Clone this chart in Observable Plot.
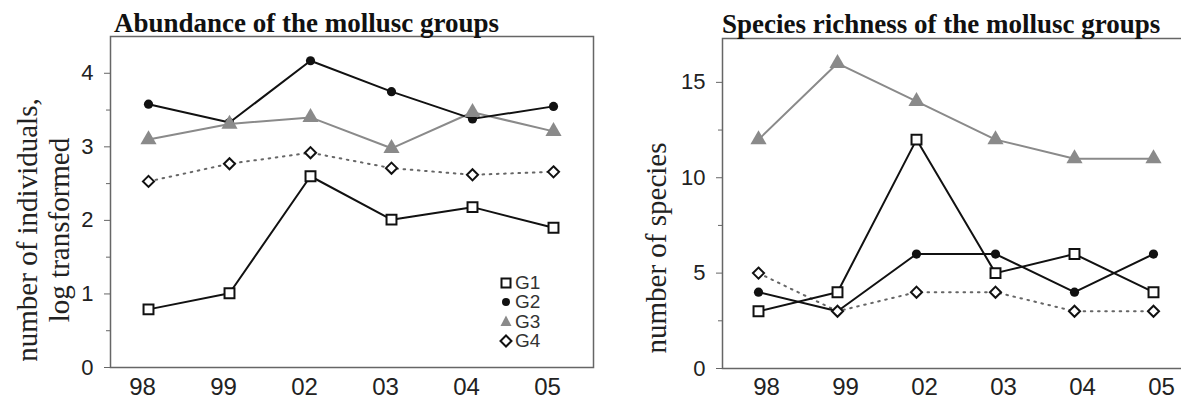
<!DOCTYPE html>
<html>
<head>
<meta charset="utf-8">
<script src="https://cdn.jsdelivr.net/npm/d3@7"></script>
<script src="https://cdn.jsdelivr.net/npm/@observablehq/plot@0.6"></script>
<style>
  html, body { margin: 0; padding: 0; background: #fff; }
  #wrap { position: relative; width: 1181px; height: 401px; overflow: hidden; background: #fff; }
  .panel { position: absolute; top: 0; overflow: hidden; height: 401px; }
  .title { position: absolute; font-family: "Liberation Serif", "Times New Roman", serif; font-weight: bold; font-size: 27px; color: #111; white-space: nowrap; line-height: 1; }
  #overlay { position: absolute; left: 0; top: 0; pointer-events: none; }
  .legend { position: absolute; font-family: "Liberation Sans", Arial, sans-serif; font-size: 19px; color: #333; line-height: 19.3px; }
  .legend div { display: flex; align-items: center; }
  .legend svg { margin-right: 2px; }
</style>
</head>
<body>
<div id="wrap">
  <div class="panel" id="left" style="left:0;width:600px"></div>
  <div class="panel" id="right" style="left:600px;width:581px"></div>
  <div class="title" style="left:114px;top:10px">Abundance of the mollusc groups</div>
  <div class="title" style="left:722px;top:11px">Species richness of the mollusc groups</div>
  <svg id="overlay" width="1181" height="401"></svg>
  <div class="legend" id="legend" style="left:499px;top:273px"></div>
</div>
<script>
// ---- data ----
const years = ["98", "99", "02", "03", "04", "05"];
const groups = ["G1", "G2", "G3", "G4"];

const abundanceG1 = [0.79, 1.01, 2.60, 2.01, 2.18, 1.90];
const abundanceG2 = [3.58, 3.33, 4.17, 3.75, 3.38, 3.55];
const abundanceG3 = [3.10, 3.31, 3.40, 2.98, 3.47, 3.21];
const abundanceG4 = [2.53, 2.77, 2.92, 2.71, 2.62, 2.66];

const richnessG1 = [3, 4, 12, 5, 6, 4];
const richnessG2 = [4, 3, 6, 6, 4, 6];
const richnessG3 = [12, 16, 14, 12, 11, 11];
const richnessG4 = [5, 3, 4, 4, 3, 3];

const abundanceTicks = [0, 1, 2, 3, 4];
const abundanceMinor = [0.5, 1.5, 2.5, 3.5];
const richnessTicks = [0, 5, 10, 15];
const richnessMinor = [2.5, 7.5, 12.5];

function table(series) {
  const rows = [];
  groups.forEach((g, gi) => series[gi].forEach((v, i) => rows.push({year: years[i], group: g, value: v})));
  return rows;
}
const abundance = table([abundanceG1, abundanceG2, abundanceG3, abundanceG4]);
const richness = table([richnessG1, richnessG2, richnessG3, richnessG4]);

const styleG = {
  G1: {line: {stroke: "#111", strokeWidth: 2}, dot: {symbol: "square", r: 5.6, fill: "white", stroke: "#111", strokeWidth: 2}},
  G2: {line: {stroke: "#111", strokeWidth: 2}, dot: {symbol: "circle", r: 4.6, fill: "#111", stroke: "none"}},
  G3: {line: {stroke: "#8a8a8a", strokeWidth: 2}, dot: {symbol: "triangle", r: 6, fill: "#8a8a8a", stroke: "none"}},
  G4: {line: {stroke: "#666", strokeWidth: 2, strokeDasharray: "1.6,5.6"}, dot: {symbol: "diamond2", r: 5, fill: "white", stroke: "#111", strokeWidth: 2}}
};
const lineOrder = ["G4", "G3", "G1", "G2"];
const dotOrder = ["G2", "G3", "G1", "G4"];

function seriesMarks(data) {
  const marks = [];
  for (const g of lineOrder) {
    const d = data.filter(r => r.group === g);
    marks.push(Plot.line(d, {x: "year", y: "value", ...styleG[g].line}));
  }
  for (const g of dotOrder) {
    const d = data.filter(r => r.group === g);
    marks.push(Plot.dot(d, {x: "year", y: "value", ...styleG[g].dot}));
  }
  return marks;
}

const axisColor = "#666";
const textColor = "#222";
const fmt = d => String(d);

// ---- left panel ----
const left = Plot.plot({
  width: 600, height: 401,
  marginLeft: 110, marginRight: 7, marginTop: 36, marginBottom: 34,
  style: {fontFamily: "Liberation Sans, Arial, sans-serif", background: "white", color: textColor},
  x: {type: "point", domain: years, range: [148, 553], padding: 0, axis: null},
  y: {domain: [0, 4.5], range: [367, 36], axis: null},
  marks: [
    Plot.frame({stroke: axisColor, strokeWidth: 1.5}),
    Plot.axisY(abundanceMinor, {tickSize: 4, tickFormat: () => "", stroke: axisColor, strokeWidth: 1, label: null}),
    Plot.axisY(abundanceTicks, {tickSize: 6, tickPadding: 11, tickFormat: fmt, fontSize: 22, fill: textColor, stroke: axisColor, strokeWidth: 1, label: null}),
    Plot.axisX(years, {tickSize: 0, tickPadding: 10, fontSize: 24, fill: textColor, label: null, dx: -6}),
    ...seriesMarks(abundance)
  ]
});
document.getElementById("left").appendChild(left);

// ---- right panel ----
const right = Plot.plot({
  width: 581, height: 401,
  marginLeft: 122, marginRight: -6, marginTop: 38, marginBottom: 33,
  style: {fontFamily: "Liberation Sans, Arial, sans-serif", background: "white", color: textColor},
  x: {type: "point", domain: years, range: [158, 553], padding: 0, axis: null},
  y: {domain: [0, 17.3], range: [368, 38], axis: null},
  marks: [
    Plot.frame({stroke: axisColor, strokeWidth: 1.5}),
    Plot.axisY(richnessMinor, {tickSize: 4, tickFormat: () => "", stroke: axisColor, strokeWidth: 1, label: null}),
    Plot.axisY(richnessTicks, {tickSize: 6, tickPadding: 11, tickFormat: fmt, fontSize: 22, fill: textColor, stroke: axisColor, strokeWidth: 1, label: null}),
    Plot.axisX(years, {tickSize: 0, tickPadding: 9, fontSize: 24, fill: textColor, label: null, dx: 8}),
    ...seriesMarks(richness)
  ]
});
document.getElementById("right").appendChild(right);

// ---- axis titles ----
const overlay = d3.select("#overlay");
const yTitles = [
  {x: 27, y: 230, text: "number of individuals,"},
  {x: 59, y: 230, text: "log transformed"},
  {x: 656, y: 248, text: "number of species"}
];
overlay.selectAll("text").data(yTitles).join("text")
  .attr("transform", d => `translate(${d.x},${d.y}) rotate(-90)`)
  .attr("text-anchor", "middle")
  .attr("dominant-baseline", "central")
  .attr("font-family", "Liberation Serif, Times New Roman, serif")
  .attr("font-size", 29)
  .attr("fill", "#222")
  .text(d => d.text);

// ---- legend ----
const legend = d3.select("#legend");
const icons = {
  G1: `<rect x="2.5" y="2.5" width="9" height="9" fill="white" stroke="#111" stroke-width="2"/>`,
  G2: `<circle cx="7" cy="7" r="4" fill="#111"/>`,
  G3: `<path d="M7,1.5 L12.5,12 L1.5,12 Z" fill="#8a8a8a"/>`,
  G4: `<path d="M7,1.5 L12.5,7 L7,12.5 L1.5,7 Z" fill="white" stroke="#111" stroke-width="2"/>`
};
groups.forEach(g => {
  legend.append("div").html(`<svg width="14" height="14">${icons[g]}</svg><span>${g}</span>`);
});
</script>
</body>
</html>
